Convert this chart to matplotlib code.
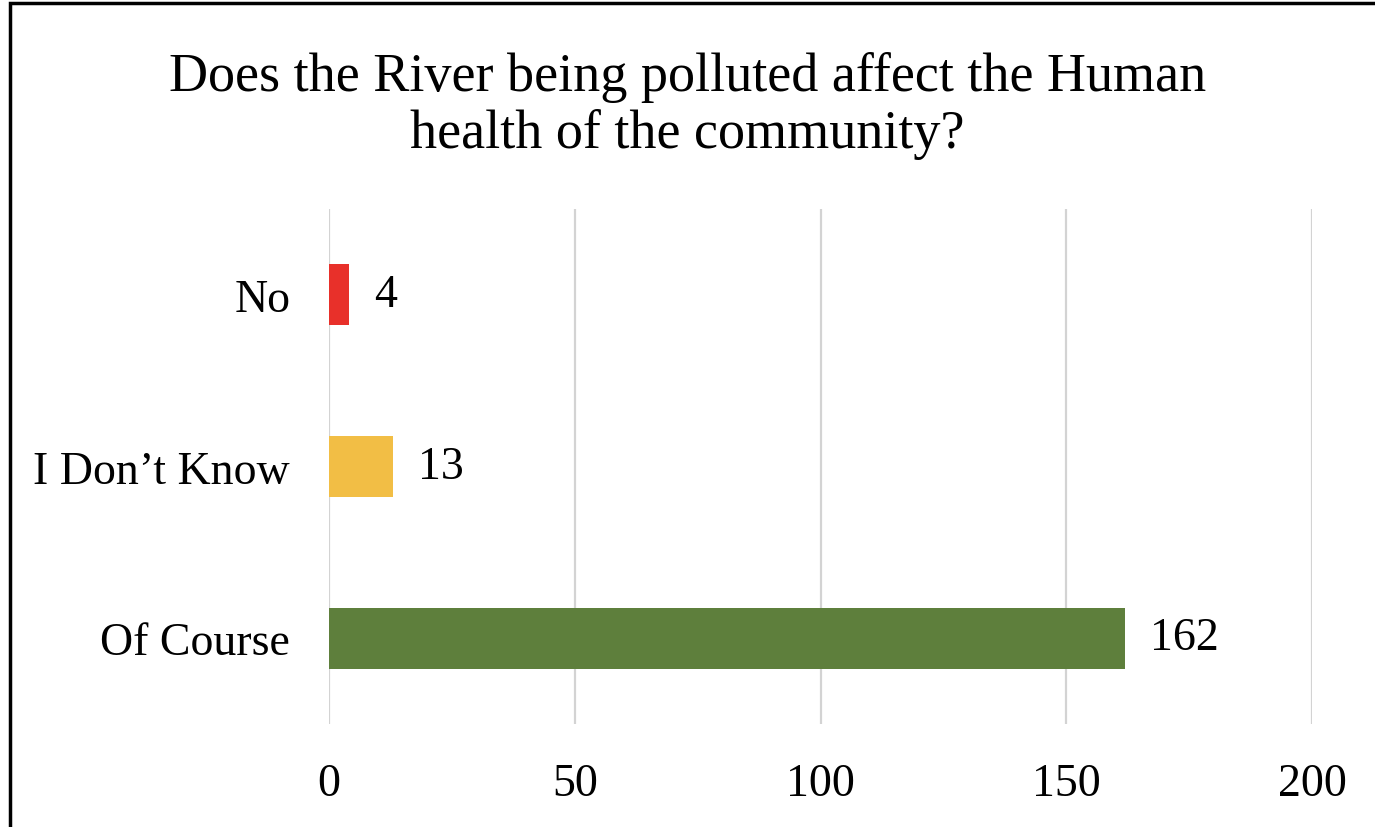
import matplotlib
matplotlib.use("Agg")
import matplotlib.pyplot as plt
from matplotlib.patches import Rectangle

#===Data===#
CATEGORIES = ["Of Course", "I Don\u2019t Know", "No"]
VALUES = [162, 13, 4]
COLORS = ["#5E7F3C", "#F2BE45", "#E8302A"]
X_TICKS = [0, 50, 100, 150, 200]
TITLE = "Does the River being polluted affect the Human\nhealth of the community?"

plt.rcParams['font.family'] = ['Liberation Serif', 'DejaVu Serif']

fig = plt.figure(figsize=(13.75, 8.28), dpi=100)
ax = fig.add_axes([0.2393, 0.1244, 0.715, 0.622])

y_pos = range(len(CATEGORIES))
ax.barh(y_pos, VALUES, height=0.354, color=COLORS, zorder=3)

for y, v in zip(y_pos, VALUES):
    ax.annotate(str(v), (v, y), xytext=(18, 0), textcoords='offset points',
                va='center', ha='left', fontsize=33)

ax.set_xlim(0, 200)
ax.set_ylim(-0.5, 2.5)
ax.set_xticks(X_TICKS)
ax.set_yticks(list(y_pos))
ax.set_yticklabels(CATEGORIES)
ax.tick_params(axis='both', length=0, labelsize=33)
ax.tick_params(axis='x', pad=28)
ax.tick_params(axis='y', pad=28)
ax.grid(axis='x', color='#d3d3d3', linewidth=1.6, zorder=0)
for s in ax.spines.values():
    s.set_visible(False)

fig.text(0.5, 0.872, TITLE, ha='center', va='center', fontsize=39, linespacing=1.15)

# outer border (left and top visible in the source)
fig.patches.append(Rectangle((0.007, -0.01), 0.995, 1.005, transform=fig.transFigure,
                             fill=False, edgecolor='black', linewidth=2.5))

fig.savefig("out.png", dpi=100)
